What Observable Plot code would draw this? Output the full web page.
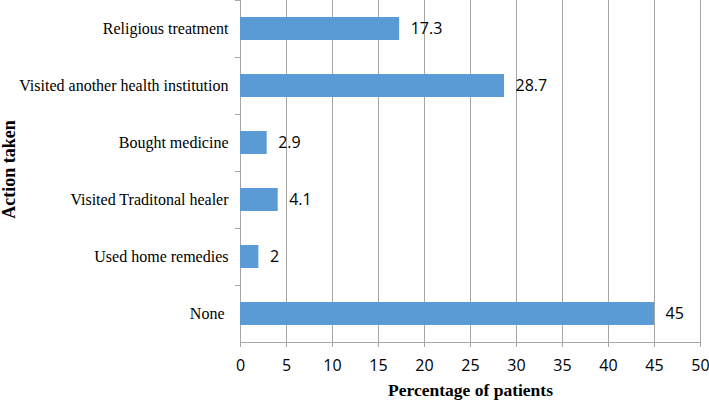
<!DOCTYPE html>
<html><head><meta charset="utf-8">
<script src="https://cdn.jsdelivr.net/npm/d3@7"></script>
<script src="https://cdn.jsdelivr.net/npm/@observablehq/plot@0.6"></script>
<style>body{margin:0;background:#fff} svg{overflow:visible}</style>
</head><body><div id="chart"></div>
<script>
const categories = ["Religious treatment", "Visited another health institution", "Bought medicine", "Visited Traditonal healer", "Used home remedies", "None"];
const values = [17.3, 28.7, 2.9, 4.1, 2, 45];
const xTicks = [0, 5, 10, 15, 20, 25, 30, 35, 40, 45, 50];
const xTitle = "Percentage of patients";
const yTitle = "Action taken";

const data = categories.map((c, i) => ({action: c, pct: values[i]}));
const gridColor = "#a6a6a6";
const serif = "'Liberation Serif', 'Times New Roman', serif";
const sans = "'Open Sans', sans-serif";

const plot = Plot.plot({
  width: 709, height: 400,
  marginLeft: 240, marginRight: 9, marginTop: 0, marginBottom: 58,
  x: {domain: [0, 50], ticks: xTicks},
  y: {domain: categories, paddingInner: 0.6, paddingOuter: 0.3},
  style: {background: "#fff"},
  marks: [
    Plot.gridX(xTicks.filter(t => t > 0), {stroke: gridColor, strokeOpacity: 1}),
    Plot.ruleX([0], {stroke: gridColor}),
    Plot.frame({anchor: "bottom", stroke: gridColor}),
    Plot.axisX({ticks: xTicks, tickSize: 5, tickPadding: 12, stroke: gridColor, fontSize: 16, fontFamily: sans, fill: "#000", label: null}),
    Plot.axisY({text: null, tickSize: 5, dy: -28.5, stroke: gridColor, label: null}),
    Plot.axisY({tickSize: 0, tickPadding: 12, fontSize: 16, fontFamily: serif, fill: "#000", label: null,
      tickFormat: d => d === "None" ? "None\u00a0" : d}),
    Plot.barX(data, {x: "pct", y: "action", fill: "#5b9bd5"}),
    Plot.text(data, {x: "pct", y: "action", text: d => String(d.pct), dx: 11, textAnchor: "start", fontSize: 16, fontFamily: sans, fill: "#000"}),
    Plot.text([xTitle], {frameAnchor: "bottom", dy: 48, lineAnchor: "middle", fontSize: 17.5, fontWeight: "bold", fontFamily: serif, fill: "#000"}),
    Plot.text([yTitle], {frameAnchor: "left", dx: -231, dy: -2, rotate: -90, textAnchor: "middle", lineAnchor: "middle", fontSize: 18, fontWeight: "bold", fontFamily: serif, fill: "#000"})
  ]
});
document.getElementById("chart").appendChild(plot);
</script>
</body></html>
